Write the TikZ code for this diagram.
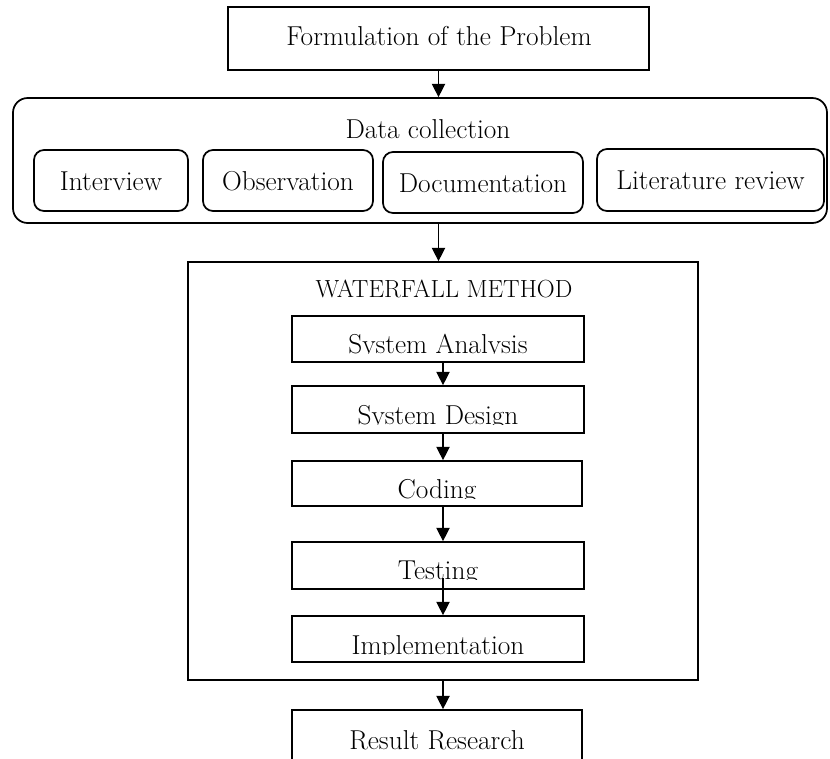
\documentclass[tikz,border=0pt]{standalone}
\usetikzlibrary{arrows.meta,calc,fit}
\begin{document}
\begin{tikzpicture}[x=0.75pt,y=-0.75pt,
  box/.style={draw, line width=1.3pt, inner sep=0pt},
  rbox/.style={box, rounded corners=7.5pt},
  obox/.style={box, rounded corners=11pt},
  txt/.style={anchor=base, inner sep=0pt, font=\fontsize{20.5}{24}\selectfont},
  captxt/.style={txt, font=\fontsize{18.6}{22}\selectfont},
  arr/.style={line width=1pt, -{Triangle[length=10pt,width=10pt]}}]
\clip (0,0) rectangle (830,758);
\fill[white] (0,0) rectangle (830,758);
% top box
\node[box, fit={(228,7) (649,70)}] (form) {};
\node[txt] (formt) at (439,45) {Formulation of the Problem};
% data collection
\node[obox, fit={(13,98) (827,223)}] (data) {};
\node[txt] (datat) at (428,138) {Data collection};
\node[rbox, fit={(34,150) (188,211)}] (intv) {};
\node[txt] (intvt) at (111,190) {Interview};
\node[rbox, fit={(203,150) (373,211)}] (obs) {};
\node[txt] (obst) at (288,190) {Observation};
\node[rbox, fit={(383,152) (583,213)}] (doc) {};
\node[txt] (doct) at (483,192) {Documentation};
\node[rbox, fit={(597,149) (824,211)}] (lit) {};
\node[txt] (litt) at (710.5,189) {Literature review};
% waterfall
\node[box, fit={(188,262) (698,680)}] (wf) {};
\node[captxt] (wft) at (444,297) {WATERFALL METHOD};
\node[box, fit={(292,316) (584,362)}] (sa) {};
\begin{scope}\clip (292,316) rectangle (584,353.5);
\node[txt] (sat) at (438,353) {System Analysis};\end{scope}
\node[box, fit={(292,386) (584,433)}] (sd) {};
\begin{scope}\clip (292,386) rectangle (584,424.5);
\node[txt] (sdt) at (438,424) {System Design};\end{scope}
\node[box, fit={(292,461) (582,506)}] (cod) {};
\begin{scope}\clip (292,461) rectangle (582,498.5);
\node[txt] (codt) at (437,498) {Coding};\end{scope}
\node[box, fit={(292,542) (584,589)}] (tes) {};
\begin{scope}\clip (292,542) rectangle (584,579.5);
\node[txt] (test) at (438,579) {Testing};\end{scope}
\node[box, fit={(292,616) (584,662)}] (imp) {};
\begin{scope}\clip (292,616) rectangle (584,654.5);
\node[txt] (impt) at (438,654) {Implementation};\end{scope}
% result
\node[box, fit={(292,710) (582,775)}] (res) {};
\node[txt] (rest) at (437,749) {Result Research};
% arrows
\draw[arr] ($(form.south)+(0,-2)$) -- (data.north -| form.south);
\draw[arr] (data.south -| form.south) -- (wf.north -| form.south);
\draw[arr] (sa.south -| wf.north) -- (sd.north -| wf.north);
\draw[arr] ($(sd.south -| wf.north)+(0,-1)$) -- (cod.north -| wf.north);
\draw[arr] (cod.south -| wf.north) -- (tes.north -| wf.north);
\draw[arr] ($(tes.south -| wf.north)+(0,-12)$) -- (imp.north -| wf.north);
\draw[arr] (wf.south -| wf.north) -- (res.north -| wf.north);
\end{tikzpicture}
\end{document}
